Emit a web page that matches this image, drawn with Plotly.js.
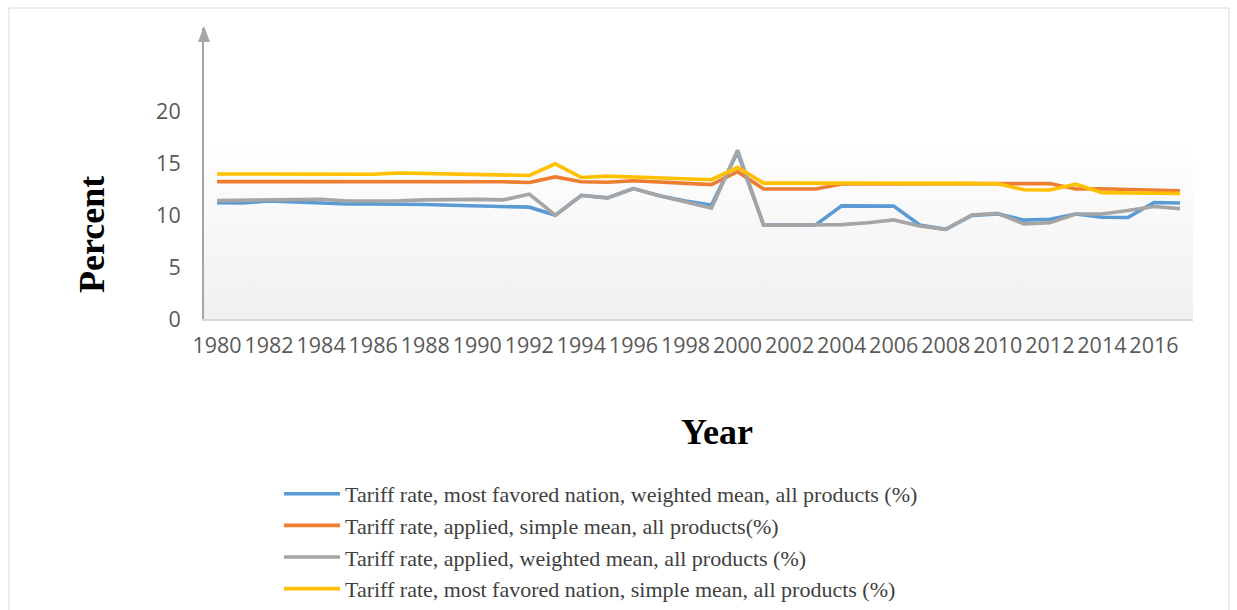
<!DOCTYPE html>
<html>
<head>
<meta charset="utf-8">
<script src="https://cdn.plot.ly/plotly-3.0.1.min.js"></script>
<style>
html,body{margin:0;padding:0;background:#fff;}
#chart{width:1237px;height:610px;}
</style>
</head>
<body>
<div id="chart"></div>
<script>
var years = [1980,1981,1982,1983,1984,1985,1986,1987,1988,1989,1990,1991,1992,1993,1994,1995,1996,1997,1998,1999,2000,2001,2002,2003,2004,2005,2006,2007,2008,2009,2010,2011,2012,2013,2014,2015,2016,2017];

var mfnWeighted = [11.24,11.2,11.4,11.3,11.2,11.1,11.1,11.1,11.05,10.98,10.9,10.85,10.8,10.02,11.95,11.7,12.6,11.9,11.4,11.0,16.1,9.08,9.08,9.08,10.92,10.9,10.9,9.08,8.66,10.0,10.15,9.55,9.63,10.14,9.82,9.8,11.25,11.2];
var appliedSimple = [13.27,13.27,13.3,13.3,13.28,13.27,13.27,13.27,13.25,13.33,13.3,13.25,13.18,13.72,13.25,13.2,13.35,13.2,13.1,12.98,14.23,12.56,12.56,12.56,13.04,13.04,13.04,13.05,13.04,13.04,13.0,13.08,13.08,12.55,12.58,12.5,12.42,12.38];
var appliedWeighted = [11.43,11.45,11.5,11.52,11.56,11.4,11.4,11.42,11.5,11.56,11.55,11.5,12.05,10.02,11.92,11.69,12.59,11.9,11.3,10.7,16.3,9.08,9.08,9.08,9.11,9.3,9.57,8.99,8.66,10.05,10.2,9.18,9.31,10.14,10.14,10.47,10.86,10.66];
var mfnSimple = [14.0,14.0,14.0,14.0,14.0,14.0,13.98,14.1,14.05,14.02,13.95,13.9,13.86,14.98,13.66,13.8,13.72,13.6,13.5,13.45,14.65,13.12,13.12,13.12,13.14,13.1,13.1,13.12,13.1,13.1,13.05,12.48,12.45,13.02,12.2,12.2,12.2,12.12];

var seriesNames = [
  "Tariff rate, most favored nation, weighted mean, all products (%)",
  "Tariff rate, applied, simple mean, all products(%)",
  "Tariff rate, applied, weighted mean, all products (%)",
  "Tariff rate, most favored nation, simple mean, all products (%)"
];
var seriesColors = ["#5B9BD5","#ED7D31","#A5A5A5","#FFC000"];
var seriesValues = [mfnWeighted, appliedSimple, appliedWeighted, mfnSimple];

var xTickVals = [1980,1982,1984,1986,1988,1990,1992,1994,1996,1998,2000,2002,2004,2006,2008,2010,2012,2014,2016];
var xTickText = ["1980","1982","1984","1986","1988","1990","1992","1994","1996","1998","2000","2002","2004","2006","2008","2010","2012","2014","2016"];
var yTickVals = [0,5,10,15,20];
var yTickText = ["0","5","10","15","20"];

var traces = seriesValues.map(function(v,i){
  return {
    x: years, y: v, type: "scatter", mode: "lines",
    name: seriesNames[i],
    line: {color: seriesColors[i], width: 3.6},
    hoverinfo: "x+y+name"
  };
});

var gradSvg = '<svg xmlns="http://www.w3.org/2000/svg" width="100" height="100" preserveAspectRatio="none">' +
  '<defs><linearGradient id="g" x1="0" y1="0" x2="0" y2="1">' +
  '<stop offset="0" stop-color="#ffffff"/><stop offset="1" stop-color="#f0f0f0"/>' +
  '</linearGradient></defs><rect width="100" height="100" fill="url(#g)"/></svg>';
var gradUri = "data:image/svg+xml;base64," + btoa(gradSvg);

var L = 204, R = 44, T = 28, B = 291;
var W = 1237 - L - R, H = 610 - T - B;
function px(x){ return (x - L) / W; }
function py(y){ return (610 - B - y) / H; }
var innerTop = py(140);

var titleFont = {family: "Liberation Serif, Times New Roman, serif", size: 36, color: "#000000", weight: "bold"};

var layout = {
  width: 1237, height: 610,
  margin: {l: L, r: R, t: T, b: B, pad: 0, autoexpand: false},
  paper_bgcolor: "#ffffff",
  plot_bgcolor: "rgba(0,0,0,0)",
  showlegend: true,
  font: {family: "Open Sans, sans-serif", color: "#595959"},
  xaxis: {
    range: [1979.5, 2017.5],
    tickmode: "array", tickvals: xTickVals, ticktext: xTickText,
    tickangle: 0, ticks: "", showgrid: false, zeroline: false,
    showline: true, linecolor: "#d9d9d9", linewidth: 2,
    tickfont: {family: "Open Sans, sans-serif", size: 21.5, color: "#595959"},
    ticklabelstandoff: 6,
    fixedrange: true
  },
  yaxis: {
    range: [0, 28.1],
    tickmode: "array", tickvals: yTickVals, ticktext: yTickText,
    ticks: "", showgrid: false, zeroline: false,
    showline: true, linecolor: "#a6a6a6", linewidth: 2,
    tickfont: {family: "Open Sans, sans-serif", size: 21.5, color: "#595959"},
    ticklabelstandoff: 17,
    fixedrange: true
  },
  annotations: [
    {text: "Percent", xref: "paper", yref: "paper",
     x: px(92), y: py(235), xanchor: "center", yanchor: "middle",
     textangle: -90, showarrow: false, font: titleFont},
    {text: "Year", xref: "paper", yref: "paper",
     x: px(717), y: py(432), xanchor: "center", yanchor: "middle",
     showarrow: false, font: titleFont}
  ],
  legend: {
    x: px(279), y: py(473), xanchor: "left", yanchor: "top",
    bgcolor: "rgba(0,0,0,0)", borderwidth: 0,
    font: {family: "Liberation Serif, Times New Roman, serif", size: 22, color: "#404040"},
    itemwidth: 56, tracegroupgap: 0
  },
  images: [{
    source: gradUri, xref: "paper", yref: "paper",
    x: 0, y: innerTop, sizex: 1, sizey: innerTop,
    xanchor: "left", yanchor: "top", sizing: "stretch", layer: "below"
  }],
  shapes: [
    {type: "path", xref: "paper", yref: "paper",
     path: "M " + px(198) + " " + py(42) + " L " + px(210) + " " + py(42) + " L " + px(204) + " " + py(26) + " Z",
     fillcolor: "#a6a6a6", line: {width: 0}},
    {type: "rect", xref: "paper", yref: "paper",
     x0: px(9), x1: px(1229), y0: py(640), y1: py(8),
     line: {color: "#d9d9d9", width: 1}, fillcolor: "rgba(0,0,0,0)", layer: "below"}
  ]
};

Plotly.newPlot("chart", traces, layout, {displayModeBar: false, staticPlot: true});
</script>
</body>
</html>
